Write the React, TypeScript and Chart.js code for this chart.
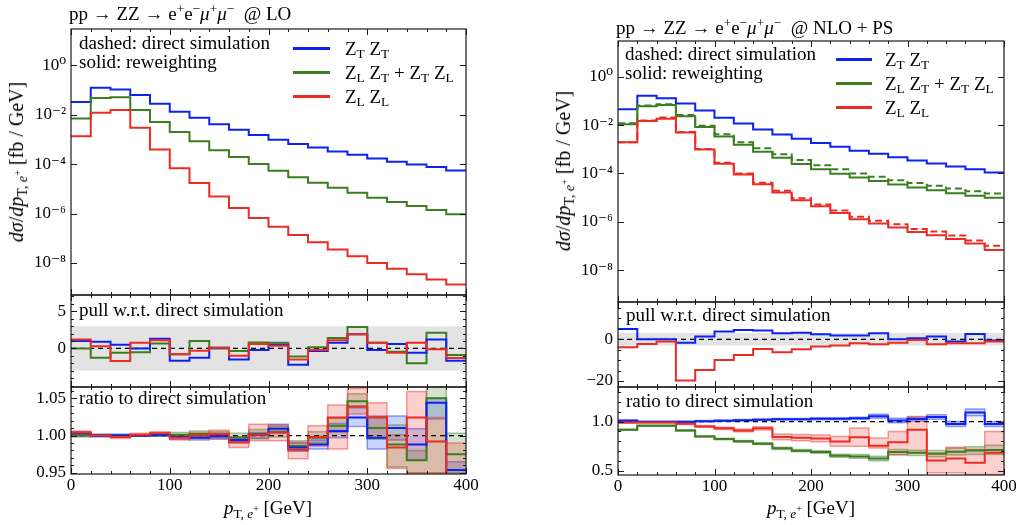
import React, { useEffect, useRef } from "react";
import { Chart, registerables } from "chart.js";
Chart.register(...registerables);

const FONT_FAMILY = '"Liberation Serif", "DejaVu Serif", serif';
const BLUE = "#0b22f2";
const GREEN = "#3b7d1f";
const RED = "#ec2b22";
const BLUE_RGB = "20,50,245";
const GREEN_RGB = "60,125,35";
const RED_RGB = "236,45,35";

const BIN_EDGES = [0, 20, 40, 60, 80, 100, 120, 140, 160, 180, 200, 220, 240, 260, 280, 300, 320, 340, 360, 380, 400];
const X_MAJOR = [0, 100, 200, 300, 400];

// ---- LO main (reweighting ~ direct) ----
const LO_TT = [3.3e-2, 1.26e-1, 1.07e-1, 6.3e-2, 2.8e-2, 1.32e-2, 7.6e-3, 4.1e-3, 2.5e-3, 1.51e-3, 9.8e-4, 6.6e-4, 4.7e-4, 3.3e-4, 2.4e-4, 1.7e-4, 1.26e-4, 9.8e-5, 7.6e-5, 5.5e-5];
const LO_LT = [7.1e-3, 4.8e-2, 5.2e-2, 1.55e-2, 5.1e-3, 2.0e-3, 8.5e-4, 3.7e-4, 1.95e-4, 1.02e-4, 5.4e-5, 2.95e-5, 1.78e-5, 1.12e-5, 6.9e-6, 4.4e-6, 2.9e-6, 2.0e-6, 1.38e-6, 9.3e-7];
const LO_LL = [1.35e-3, 1.2e-2, 1.55e-2, 3.0e-3, 3.9e-4, 6.9e-5, 1.74e-5, 4.9e-6, 1.66e-6, 6.6e-7, 2.9e-7, 1.35e-7, 6.8e-8, 3.5e-8, 1.86e-8, 1.0e-8, 5.8e-9, 3.5e-9, 2.1e-9, 1.32e-9];

// ---- NLO+PS main ----
const NLO_TT = [4.5e-2, 1.62e-1, 1.29e-1, 7.8e-2, 4.0e-2, 2.0e-2, 1.15e-2, 6.6e-3, 4.1e-3, 2.7e-3, 1.82e-3, 1.26e-3, 8.7e-4, 6.5e-4, 4.7e-4, 3.4e-4, 2.6e-4, 1.95e-4, 1.48e-4, 1.1e-4];
const NLO_LT_RW = [1.07e-2, 6.0e-2, 6.8e-2, 2.3e-2, 8.3e-3, 3.4e-3, 1.55e-3, 7.9e-4, 4.4e-4, 2.45e-4, 1.48e-4, 9.8e-5, 6.8e-5, 4.8e-5, 3.5e-5, 2.6e-5, 2.0e-5, 1.51e-5, 1.2e-5, 9.8e-6];
const NLO_LT_DIR = [1.2e-2, 6.5e-2, 7.2e-2, 2.6e-2, 9.3e-3, 4.2e-3, 1.95e-3, 1.1e-3, 6.2e-4, 3.6e-4, 2.2e-4, 1.48e-4, 1.0e-4, 7.2e-5, 5.2e-5, 4.0e-5, 3.1e-5, 2.35e-5, 1.82e-5, 1.48e-5];
const NLO_LL_RW = [1.95e-3, 1.48e-2, 1.82e-2, 4.9e-3, 9.8e-4, 2.5e-4, 9.1e-5, 3.6e-5, 1.62e-5, 7.8e-6, 4.4e-6, 2.3e-6, 1.26e-6, 8.5e-7, 5.8e-7, 3.8e-7, 2.75e-7, 1.95e-7, 1.26e-7, 6.8e-8];
const NLO_LL_DIR = [1.95e-3, 1.55e-2, 2.05e-2, 5.2e-3, 1.02e-3, 2.75e-4, 1.0e-4, 4.1e-5, 1.9e-5, 9.3e-6, 5.2e-6, 2.95e-6, 1.62e-6, 1.1e-6, 7.8e-7, 5.0e-7, 4.0e-7, 2.7e-7, 1.66e-7, 1.02e-7];

// ---- pulls ----
const LO_PULL_TT = [1.0, 0.9, 0.5, 0.0, 1.3, -1.65, -1.25, 0.1, -1.5, -0.2, 0.5, -2.2, -0.35, 0.75, 1.9, -0.2, 0.6, -0.6, 1.2, -1.65];
const LO_PULL_LT = [0.0, -1.25, -0.6, -0.5, 0.65, -0.8, 1.0, 0.0, -0.35, 0.8, 0.75, -1.1, 0.15, 1.4, 2.9, 0.75, -0.45, -2.0, 2.1, -0.9];
const LO_PULL_LL = [1.2, 0.3, -1.7, 0.75, 1.1, -0.8, -0.3, 0.1, -1.0, 0.6, 0.35, -1.5, -0.2, 1.1, 1.9, 0.75, -0.6, 0.75, -0.1, -1.3];
const NLO_PULL_TT = [5.0, 0, 0, -1.6, 1.3, 3.7, 4.5, 4.2, 2.9, 3.2, 2.4, 1.8, 1.8, 2.9, 0, 0.5, 1.3, -1.1, 2.6, -0.6];
const NLO_PULL_LL = [-3.8, -2.2, -1.1, -19.8, -14.7, -9.9, -7.5, -4.6, -6.2, -4.8, -3.5, -3.0, -1.9, -2.4, -1.6, -0.3, -2.4, -1.9, -1.9, -1.1];
const PULL_BAND = [-3, 3];

// ---- ratios LO ----
const LO_R_TT = [1.003, 1.0, 1.0, 1.0, 1.001, 0.998, 0.997, 0.999, 0.994, 1.001, 1.009, 0.984, 0.988, 1.006, 1.024, 0.997, 1.01, 0.988, 1.044, 0.954];
const LO_R_TT_LO = [1.001, 0.998, 0.998, 0.999, 0.999, 0.995, 0.994, 0.995, 0.99, 0.996, 1.003, 0.979, 0.982, 0.997, 1.012, 0.982, 0.994, 0.967, 1.022, 0.945];
const LO_R_TT_HI = [1.005, 1.002, 1.002, 1.001, 1.003, 1.001, 1.0, 1.003, 0.998, 1.004, 1.015, 0.99, 0.994, 1.016, 1.039, 1.026, 1.026, 1.009, 1.05, 0.965];
const LO_R_LT = [1.0, 1.0, 1.0, 1.0, 1.001, 1.001, 1.002, 1.001, 0.997, 1.002, 1.005, 0.986, 0.997, 1.013, 1.046, 1.01, 0.988, 0.967, 1.05, 0.975];
const LO_R_LT_LO = [0.998, 0.999, 0.999, 0.999, 0.999, 0.998, 0.998, 0.997, 0.992, 0.996, 0.998, 0.98, 0.99, 1.004, 1.037, 0.995, 0.958, 0.95, 0.95, 0.95];
const LO_R_LT_HI = [1.002, 1.001, 1.001, 1.001, 1.003, 1.004, 1.006, 1.005, 1.003, 1.008, 1.012, 0.993, 1.005, 1.023, 1.056, 1.025, 1.014, 0.98, 1.071, 1.003];
const LO_R_LL = [1.004, 1.0, 0.998, 1.001, 1.003, 0.997, 1.0, 1.002, 0.991, 1.001, 1.004, 0.981, 0.998, 1.024, 1.039, 1.024, 0.984, 1.024, 0.992, 0.94];
const LO_R_LL_LO = [1.001, 0.999, 0.996, 0.999, 1.001, 0.994, 0.996, 0.996, 0.984, 0.993, 0.993, 0.969, 0.986, 0.982, 1.029, 0.997, 0.956, 0.95, 0.95, 0.93];
const LO_R_LL_HI = [1.006, 1.001, 1.0, 1.003, 1.005, 1.0, 1.004, 1.007, 0.998, 1.015, 1.014, 0.991, 1.013, 1.041, 1.063, 1.044, 1.001, 1.059, 1.024, 0.99];

// ---- ratios NLO ----
const NLO_R_TT = [1.01, 1.0, 1.0, 1.0, 1.005, 1.01, 1.015, 1.02, 1.025, 1.025, 1.03, 1.03, 1.035, 1.055, 1.013, 1.027, 1.048, 0.976, 1.095, 0.976];
const NLO_R_TT_LO = [1.0, 0.995, 0.995, 0.995, 0.999, 1.004, 1.008, 1.013, 1.017, 1.017, 1.021, 1.02, 1.024, 1.035, 0.99, 1.005, 1.025, 0.95, 1.06, 0.95];
const NLO_R_TT_HI = [1.02, 1.005, 1.005, 1.005, 1.011, 1.016, 1.022, 1.027, 1.033, 1.033, 1.039, 1.04, 1.046, 1.075, 1.036, 1.049, 1.071, 1.002, 1.13, 1.002];
const NLO_R_LT = [0.918, 0.959, 0.959, 0.911, 0.85, 0.823, 0.8, 0.776, 0.728, 0.704, 0.69, 0.653, 0.646, 0.625, 0.69, 0.682, 0.674, 0.694, 0.705, 0.712];
const NLO_R_LT_LO = [0.912, 0.953, 0.953, 0.905, 0.843, 0.815, 0.791, 0.766, 0.717, 0.692, 0.677, 0.638, 0.628, 0.602, 0.663, 0.655, 0.643, 0.66, 0.665, 0.665];
const NLO_R_LT_HI = [0.924, 0.965, 0.965, 0.917, 0.857, 0.831, 0.809, 0.786, 0.739, 0.716, 0.703, 0.668, 0.664, 0.648, 0.717, 0.709, 0.705, 0.728, 0.745, 0.76];
const NLO_R_LL = [0.993, 0.993, 0.993, 0.98, 0.952, 0.932, 0.911, 0.932, 0.844, 0.837, 0.828, 0.798, 0.842, 0.755, 0.79, 0.918, 0.603, 0.625, 0.58, 0.684];
const NLO_R_LL_LO = [0.985, 0.986, 0.986, 0.972, 0.942, 0.92, 0.897, 0.915, 0.815, 0.805, 0.795, 0.75, 0.75, 0.731, 0.663, 0.681, 0.48, 0.48, 0.46, 0.46];
const NLO_R_LL_HI = [1.001, 1.0, 1.0, 0.988, 0.962, 0.944, 0.925, 0.949, 0.875, 0.87, 0.865, 0.85, 0.935, 0.834, 0.901, 1.054, 0.68, 0.74, 0.72, 0.901];

// ---- axis ticks / labels ----
const LOG_TICKS = [1, 1e-2, 1e-4, 1e-6, 1e-8];
const LOG_TICK_LABELS = ["10\u2070", "10\u207B\u00B2", "10\u207B\u2074", "10\u207B\u2076", "10\u207B\u2078"];
const LO_PULL_TICKS = [0, 5];
const LO_PULL_LABELS = ["0", "5"];
const NLO_PULL_TICKS = [-20, 0];
const NLO_PULL_LABELS = ["\u221220", "0"];
const LO_RATIO_TICKS = [0.95, 1.0, 1.05];
const LO_RATIO_LABELS = ["0.95", "1.00", "1.05"];
const NLO_RATIO_TICKS = [0.5, 1.0];
const NLO_RATIO_LABELS = ["0.5", "1.0"];

function range(a: number, b: number, step: number) {
  const out: number[] = [];
  for (let v = a; v <= b + 1e-9; v += step) out.push(Math.round(v * 1000) / 1000);
  return out;
}

function stepPoints(vals: number[]) {
  return BIN_EDGES.map((x, i) => ({ x, y: vals[Math.min(i, vals.length - 1)] }));
}
function flatPoints(y: number) {
  return [{ x: BIN_EDGES[0], y }, { x: BIN_EDGES[BIN_EDGES.length - 1], y }];
}
function line(vals: number[], color: string, order: number, dash?: number[]) {
  return { data: stepPoints(vals), borderColor: color, borderWidth: 2, stepped: true, pointRadius: 0, fill: false, order, borderDash: dash || [] };
}
function band(arr: any[], lo: number[], hi: number[], rgb: string, order: number) {
  arr.push({ data: stepPoints(hi), borderColor: `rgba(${rgb},0.45)`, borderWidth: 1.5, stepped: true, pointRadius: 0, fill: false, order });
  arr.push({ data: stepPoints(lo), borderColor: `rgba(${rgb},0.45)`, borderWidth: 1.5, stepped: true, pointRadius: 0, fill: "-1", backgroundColor: `rgba(${rgb},0.22)`, order });
}
function refLine(y: number, order: number) {
  return { data: flatPoints(y), borderColor: "#000", borderWidth: 1.2, borderDash: [5, 4], pointRadius: 0, fill: false, order };
}
function grayBand(arr: any[], order: number) {
  arr.push({ data: flatPoints(PULL_BAND[1]), borderWidth: 0, borderColor: "rgba(0,0,0,0)", pointRadius: 0, fill: false, order });
  arr.push({ data: flatPoints(PULL_BAND[0]), borderWidth: 0, borderColor: "rgba(0,0,0,0)", pointRadius: 0, fill: "-1", backgroundColor: "#e3e3e3", order });
}

// datasets
const loMain = [line(LO_LL, RED, 1), line(LO_LT, GREEN, 2), line(LO_TT, BLUE, 3)];
const nloMain = [
  line(NLO_LL_RW, RED, 1), line(NLO_LL_DIR, RED, 2, [7, 4]),
  line(NLO_LT_RW, GREEN, 3), line(NLO_LT_DIR, GREEN, 4, [7, 4]),
  line(NLO_TT, BLUE, 5),
];
const loPull: any[] = [];
grayBand(loPull, 100);
loPull.push(refLine(0, 10), line(LO_PULL_LL, RED, 1), line(LO_PULL_TT, BLUE, 2), line(LO_PULL_LT, GREEN, 3));
const nloPull: any[] = [];
grayBand(nloPull, 100);
nloPull.push(refLine(0, 10), line(NLO_PULL_LL, RED, 1), line(NLO_PULL_TT, BLUE, 2));
const loRatio: any[] = [];
band(loRatio, LO_R_TT_LO, LO_R_TT_HI, BLUE_RGB, 52);
band(loRatio, LO_R_LT_LO, LO_R_LT_HI, GREEN_RGB, 51);
band(loRatio, LO_R_LL_LO, LO_R_LL_HI, RED_RGB, 50);
loRatio.push(refLine(1, 10), line(LO_R_LL, RED, 1), line(LO_R_TT, BLUE, 2), line(LO_R_LT, GREEN, 3));
const nloRatio: any[] = [];
band(nloRatio, NLO_R_TT_LO, NLO_R_TT_HI, BLUE_RGB, 52);
band(nloRatio, NLO_R_LT_LO, NLO_R_LT_HI, GREEN_RGB, 51);
band(nloRatio, NLO_R_LL_LO, NLO_R_LL_HI, RED_RGB, 50);
nloRatio.push(refLine(1, 10), line(NLO_R_LL, RED, 1), line(NLO_R_TT, BLUE, 2), line(NLO_R_LT, GREEN, 3));

type Spec = {
  left: number; top: number; width: number; height: number;
  yType: string; yMin: number; yMax: number;
  yTicks: number[]; yLabels: string[]; yMinor: number[];
  datasets: any[]; showX: boolean;
};

const LO_L = 71, LO_W = 395, NLO_L = 618, NLO_W = 386;
const SPECS: Spec[] = [
  { left: LO_L, top: 29, width: LO_W, height: 266, yType: "logarithmic", yMin: 5e-10, yMax: 30, yTicks: LOG_TICKS, yLabels: LOG_TICK_LABELS, yMinor: [], datasets: loMain, showX: false },
  { left: LO_L, top: 295, width: LO_W, height: 92, yType: "linear", yMin: -5.2, yMax: 7.2, yTicks: LO_PULL_TICKS, yLabels: LO_PULL_LABELS, yMinor: range(-5, 7, 1), datasets: loPull, showX: false },
  { left: LO_L, top: 387, width: LO_W, height: 87, yType: "linear", yMin: 0.9485, yMax: 1.065, yTicks: LO_RATIO_TICKS, yLabels: LO_RATIO_LABELS, yMinor: range(0.95, 1.06, 0.01), datasets: loRatio, showX: true },
  { left: NLO_L, top: 41, width: NLO_W, height: 261, yType: "logarithmic", yMin: 4.8e-10, yMax: 30, yTicks: LOG_TICKS, yLabels: LOG_TICK_LABELS, yMinor: [], datasets: nloMain, showX: false },
  { left: NLO_L, top: 302, width: NLO_W, height: 85, yType: "linear", yMin: -22.9, yMax: 17.9, yTicks: NLO_PULL_TICKS, yLabels: NLO_PULL_LABELS, yMinor: range(-20, 15, 5), datasets: nloPull, showX: false },
  { left: NLO_L, top: 387, width: NLO_W, height: 88, yType: "linear", yMin: 0.456, yMax: 1.354, yTicks: NLO_RATIO_TICKS, yLabels: NLO_RATIO_LABELS, yMinor: range(0.5, 1.3, 0.1), datasets: nloRatio, showX: true },
];

const YW = 70, PR = 30, PT = 20;

const framePlugin = {
  id: "frame",
  afterDatasetsDraw(chart: any, _args: any, opts: any) {
    const { ctx, chartArea: a, scales } = chart;
    const xs = scales.x, ys = scales.y;
    ctx.save();
    ctx.strokeStyle = "#1a1a1a";
    ctx.lineWidth = 1;
    ctx.beginPath();
    const seg = (x0: number, y0: number, x1: number, y1: number) => { ctx.moveTo(x0, y0); ctx.lineTo(x1, y1); };
    (opts.xMinor || []).forEach((v: number) => {
      const p = Math.round(xs.getPixelForValue(v)) + 0.5;
      seg(p, a.bottom, p, a.bottom - 3); seg(p, a.top, p, a.top + 3);
    });
    (opts.xMajor || []).forEach((v: number) => {
      const p = Math.round(xs.getPixelForValue(v)) + 0.5;
      seg(p, a.bottom, p, a.bottom - 6); seg(p, a.top, p, a.top + 6);
    });
    (opts.yMinor || []).forEach((v: number) => {
      const p = Math.round(ys.getPixelForValue(v)) + 0.5;
      if (p < a.top || p > a.bottom) return;
      seg(a.left, p, a.left + 3, p); seg(a.right, p, a.right - 3, p);
    });
    (opts.yMajor || []).forEach((v: number) => {
      const p = Math.round(ys.getPixelForValue(v)) + 0.5;
      if (p < a.top || p > a.bottom) return;
      seg(a.left, p, a.left + 6, p); seg(a.right, p, a.right - 6, p);
    });
    ctx.stroke();
    ctx.lineWidth = 1.2;
    ctx.strokeRect(a.left, a.top, a.right - a.left, a.bottom - a.top);
    ctx.restore();
  },
};

function Panel({ spec }: { spec: Spec }) {
  const ref = useRef<HTMLCanvasElement>(null);
  const PB = spec.showX ? 0 : 20;
  const XH = spec.showX ? 24 : 0;
  const cw = YW + spec.width + PR;
  const chh = PT + spec.height + PB + XH;
  useEffect(() => {
    const font = { family: FONT_FAMILY, size: 17 };
    const chart = new Chart(ref.current as HTMLCanvasElement, {
      type: "line",
      data: { datasets: spec.datasets },
      options: {
        animation: false,
        responsive: false,
        events: [],
        layout: { padding: { left: 0, right: PR, top: PT, bottom: PB } },
        plugins: {
          legend: { display: false },
          tooltip: { enabled: false },
          frame: { xMajor: X_MAJOR, xMinor: BIN_EDGES, yMajor: spec.yTicks, yMinor: spec.yMinor },
        } as any,
        scales: {
          x: {
            type: "linear", min: 0, max: 400, display: spec.showX,
            grid: { display: false, drawTicks: false }, border: { display: false },
            ticks: { font, color: "#000", padding: 1, autoSkip: false, maxRotation: 0, callback: (v: any) => String(v) },
            afterBuildTicks: (s: any) => { s.ticks = X_MAJOR.map((v) => ({ value: v })); },
            afterFit: (s: any) => { s.height = XH; },
          },
          y: {
            type: spec.yType as any, min: spec.yMin, max: spec.yMax, position: "left",
            grid: { display: false, drawTicks: false }, border: { display: false },
            ticks: {
              font, color: "#000", padding: 5, autoSkip: false,
              callback: (v: any) => {
                const i = spec.yTicks.findIndex((t) => Math.abs(t - v) <= Math.abs(t) * 1e-6 + 1e-9);
                return i >= 0 ? spec.yLabels[i] : "";
              },
            },
            afterBuildTicks: (s: any) => { s.ticks = spec.yTicks.map((v) => ({ value: v })); },
            afterFit: (s: any) => { s.width = YW; },
          },
        },
      } as any,
      plugins: [framePlugin],
    });
    return () => chart.destroy();
  }, []);
  return (
    <canvas
      ref={ref}
      width={cw}
      height={chh}
      style={{ position: "absolute", left: spec.left - YW, top: spec.top - PT, width: cw, height: chh }}
    />
  );
}

const supS: React.CSSProperties = { fontSize: "0.7em", verticalAlign: "0.5em", lineHeight: 0 };
const subS: React.CSSProperties = { fontSize: "0.7em", verticalAlign: "-0.3em", lineHeight: 0 };
const Sup = ({ c }: { c: any }) => <span style={supS}>{c}</span>;
const Sub = ({ c }: { c: any }) => <span style={subS}>{c}</span>;

const TXT = 19;

function T({ x, y, size = TXT, children, style }: { x: number; y: number; size?: number; children: any; style?: React.CSSProperties }) {
  return (
    <div style={{ position: "absolute", left: x, top: y, transform: "translateY(-50%)", fontSize: size, lineHeight: 1, whiteSpace: "nowrap", ...style }}>
      {children}
    </div>
  );
}

const LEGEND = [
  { color: BLUE, label: <>Z<Sub c="T" /> Z<Sub c="T" /></> },
  { color: GREEN, label: <>Z<Sub c="L" /> Z<Sub c="T" /> + Z<Sub c="T" /> Z<Sub c="L" /></> },
  { color: RED, label: <>Z<Sub c="L" /> Z<Sub c="L" /></> },
];

function Legend({ x0, x1, tx, y0 }: { x0: number; x1: number; tx: number; y0: number }) {
  return (
    <>
      {LEGEND.map((e, i) => (
        <React.Fragment key={i}>
          <div style={{ position: "absolute", left: x0, top: y0 + i * 24 - 1, width: x1 - x0, height: 2.5, background: e.color }} />
          <T x={tx} y={y0 + i * 24}>{e.label}</T>
        </React.Fragment>
      ))}
    </>
  );
}

const YLabel = () => (
  <>
    <i>d</i><i>σ</i>/<i>dp</i><Sub c={<>T, <i>e</i><span style={{ fontSize: "0.75em", verticalAlign: "0.6em" }}>+</span></>} /> [fb / GeV]
  </>
);
const XLabel = () => (
  <>
    <i>p</i><Sub c={<>T, <i>e</i><span style={{ fontSize: "0.75em", verticalAlign: "0.6em" }}>+</span></>} /> [GeV]
  </>
);

function Rot({ x, y, children }: { x: number; y: number; children: any }) {
  return (
    <div style={{ position: "absolute", left: x, top: y, transform: "translate(-50%,-50%) rotate(-90deg)", fontSize: 20, lineHeight: 1, whiteSpace: "nowrap" }}>
      {children}
    </div>
  );
}
function Center({ x, y, children }: { x: number; y: number; children: any }) {
  return (
    <div style={{ position: "absolute", left: x, top: y, transform: "translate(-50%,-50%)", fontSize: 19, lineHeight: 1, whiteSpace: "nowrap" }}>
      {children}
    </div>
  );
}

export default function App() {
  return (
    <div style={{ position: "fixed", left: 0, top: 0, width: 1022, height: 525, background: "#fff", overflow: "hidden", fontFamily: FONT_FAMILY, color: "#000" }}>
      {SPECS.map((s, i) => <Panel key={i} spec={s} />)}
      <T x={69} y={13}>pp → ZZ → e<Sup c="+" />e<Sup c="−" /><i>μ</i><Sup c="+" /><i>μ</i><Sup c="−" />&nbsp; @ LO</T>
      <T x={616} y={27}>pp → ZZ → e<Sup c="+" />e<Sup c="−" /><i>μ</i><Sup c="+" /><i>μ</i><Sup c="−" />&nbsp; @ NLO + PS</T>
      <T x={79} y={42}>dashed: direct simulation</T>
      <T x={79} y={61}>solid: reweighting</T>
      <T x={625} y={53}>dashed: direct simulation</T>
      <T x={625} y={72}>solid: reweighting</T>
      <Legend x0={293} x1={330} tx={345} y0={48} />
      <Legend x0={836} x1={872} tx={885} y0={59} />
      <T x={79} y={309}>pull w.r.t. direct simulation</T>
      <T x={626} y={314}>pull w.r.t. direct simulation</T>
      <T x={79} y={397}>ratio to direct simulation</T>
      <T x={626} y={400}>ratio to direct simulation</T>
      <Rot x={16} y={162}><YLabel /></Rot>
      <Rot x={563} y={171}><YLabel /></Rot>
      <Center x={268} y={507}><XLabel /></Center>
      <Center x={811} y={507}><XLabel /></Center>
    </div>
  );
}
